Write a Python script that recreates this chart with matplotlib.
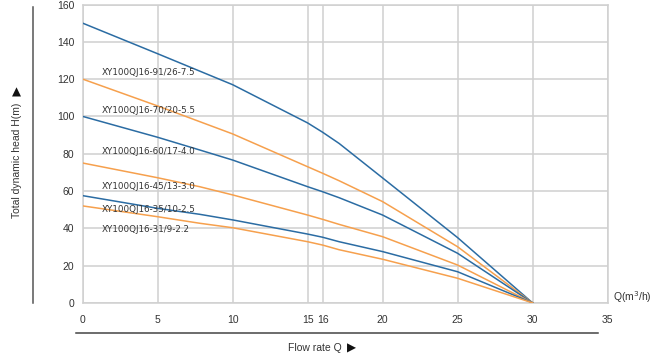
import matplotlib.pyplot as plt
from matplotlib.lines import Line2D

plt.rcParams['font.family'] = ['Liberation Sans', 'DejaVu Sans']

# flow rate Q (m3/h) where the curves were read
q = [0, 5, 7.8, 10, 15, 16, 17.1, 20, 25, 30]

# head H (m) of each pump, top to bottom
h_91 = [150, 133.6, 124.3, 117, 96.5, 91.5, 85.5, 67, 35, 0]
h_70 = [120, 105.6, 97.2, 90.6, 73, 69.5, 65.5, 54.3, 30.1, 0]
h_60 = [100, 88.8, 82, 76.6, 62.3, 59.6, 56.4, 47.1, 26.6, 0]
h_45 = [75, 67.1, 62.3, 57.9, 47.1, 44.8, 42.1, 35.5, 20.3, 0]
h_35 = [57.5, 50.7, 47.5, 44.5, 36.9, 35.2, 32.8, 27.5, 16.7, 0]
h_31 = [52, 46.2, 42.7, 40.3, 32.8, 31, 28.5, 23.4, 13.2, 0]

models = ['XY100QJ16-91/26-7.5', 'XY100QJ16-70/20-5.5', 'XY100QJ16-60/17-4.0',
          'XY100QJ16-45/13-3.0', 'XY100QJ16-35/10-2.5', 'XY100QJ16-31/9-2.2']
label_y = [123.4, 102.9, 81.4, 62.3, 50.2, 39.5]

xticks = [0, 5, 10, 15, 16, 20, 25, 30, 35]
yticks = [0, 20, 40, 60, 80, 100, 120, 140, 160]

blue = '#2b6ca3'
orange = '#f6a04d'
grid = '#d0d0d0'
txt = '#333333'

fig = plt.figure(figsize=(6.6, 3.61), dpi=100)
ax = fig.add_axes([0.1253, 0.161, 0.7952, 0.8265])

curves = [h_91, h_70, h_60, h_45, h_35, h_31]
for i, h in enumerate(curves):
    ax.plot(q, h, color=blue if i % 2 == 0 else orange, lw=1.1, zorder=3)

for name, y in zip(models, label_y):
    ax.text(1.3, y, name, fontsize=6.3, color=txt, va='center', ha='left',
            family='DejaVu Sans', zorder=4)

ax.set_xlim(0, 35)
ax.set_ylim(0, 160)
ax.set_xticks(xticks)
ax.set_yticks(yticks)
ax.grid(True, color=grid, lw=1.1)
for s in ax.spines.values():
    s.set_color(grid)
    s.set_linewidth(1.1)
ax.tick_params(length=0, labelsize=7.5, labelcolor=txt)
ax.tick_params(axis='x', pad=9)
ax.tick_params(axis='y', pad=6)

# axis titles with arrows and rules
fig.text(613 / 660, 1 - 297 / 361, 'Q(m$^3$/h)', fontsize=7.5, color=txt,
         ha='left', va='center')
fig.text(342 / 660, 1 - 348 / 361, 'Flow rate Q', fontsize=7.5, color=txt,
         ha='right', va='center')
fig.text(351.5 / 660, 1 - 348.5 / 361, '\u25b6', fontsize=8.5, color='#111111',
         ha='center', va='center', family='DejaVu Sans')
fig.text(17 / 660, 1 - 160.5 / 361, 'Total dynamic head H(m)', fontsize=7.5,
         color=txt, ha='center', va='center', rotation=90)
fig.text(16.5 / 660, 1 - 92.5 / 361, '\u25b2', fontsize=8.5, color='#111111',
         ha='center', va='center', family='DejaVu Sans')
fig.add_artist(Line2D([76 / 660, 598 / 660], [1 - 333 / 361, 1 - 333 / 361],
                      color='#444444', lw=1.1))
fig.add_artist(Line2D([32.7 / 660, 32.7 / 660], [1 - 7 / 361, 1 - 303 / 361],
                      color='#555555', lw=1.1))

fig.savefig('out.png', dpi=100)
